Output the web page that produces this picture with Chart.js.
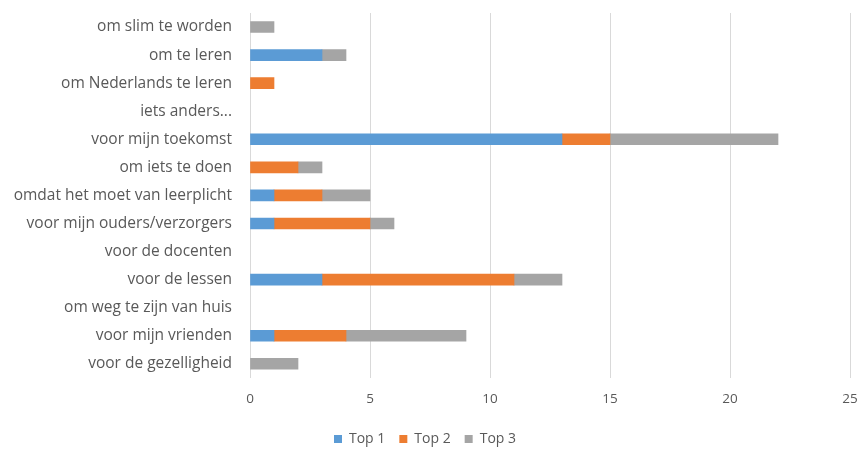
<!DOCTYPE html>
<html>
<head>
<meta charset="utf-8">
<script src="https://cdn.jsdelivr.net/npm/chart.js@4"></script>
<style>
  html, body { margin: 0; padding: 0; background: #fff; overflow: hidden; }
  #wrap { width: 861px; height: 450px; }
</style>
</head>
<body>
<div id="wrap"><canvas id="redenen-chart" width="861" height="450"></canvas></div>
<script>
"use strict";
const categories = [
  'om slim te worden',
  'om te leren',
  'om Nederlands te leren',
  'iets anders...',
  'voor mijn toekomst',
  'om iets te doen',
  'omdat het moet van leerplicht',
  'voor mijn ouders/verzorgers',
  'voor de docenten',
  'voor de lessen',
  'om weg te zijn van huis',
  'voor mijn vrienden',
  'voor de gezelligheid'
];
const top1 = [0, 3, 0, 0, 13, 0, 1, 1, 0, 3, 0, 1, 0];
const top2 = [0, 0, 1, 0, 2, 2, 2, 4, 0, 8, 0, 3, 0];
const top3 = [1, 1, 0, 0, 7, 1, 2, 1, 0, 2, 0, 5, 2];
const xTicks = [0, 5, 10, 15, 20, 25];

// zero values would draw a thin sliver, leave them empty
const noZero = arr => arr.map(v => (v === 0 ? null : v));

const data = {
  labels: categories,
  datasets: [
    { label: 'Top 1', data: noZero(top1), backgroundColor: '#5B9BD5' },
    { label: 'Top 2', data: noZero(top2), backgroundColor: '#ED7D31' },
    { label: 'Top 3', data: noZero(top3), backgroundColor: '#A5A5A5' }
  ]
};

var ctx = document.getElementById('redenen-chart').getContext('2d');
var myChart = new Chart(ctx, {
  type: 'bar',
  data: data,
  options: {
    indexAxis: 'y',
    responsive: false,
    animation: false,
    barThickness: 11,
    layout: { padding: { top: 13, right: 11, bottom: -6, left: 0 } },
    scales: {
      x: {
        stacked: true,
        min: 0,
        max: 25,
        afterBuildTicks: function(scale) {
          scale.ticks = xTicks.map(v => ({ value: v }));
        },
        afterFit: function(scale) {
          scale.paddingRight = 0;
          scale.paddingLeft = 0;
          scale.height -= 2;
        },
        grid: { color: '#D9D9D9', drawTicks: false },
        border: { display: false },
        ticks: { color: '#595959', padding: 13, font: { family: 'Open Sans', size: 13.5 } }
      },
      y: {
        stacked: true,
        afterFit: function(scale) {
          scale.width = 250;
          scale.paddingTop = 0;
          scale.paddingBottom = 0;
        },
        grid: { display: false },
        border: { display: false },
        ticks: { color: '#595959', padding: 10, font: { family: 'Open Sans', size: 15.5 } }
      }
    },
    plugins: {
      legend: {
        position: 'bottom',
        labels: {
          boxWidth: 8,
          boxHeight: 8,
          color: '#595959',
          padding: 14,
          font: { family: 'Open Sans', size: 14 }
        }
      },
      tooltip: { enabled: false }
    }
  }
});
</script>
</body>
</html>
